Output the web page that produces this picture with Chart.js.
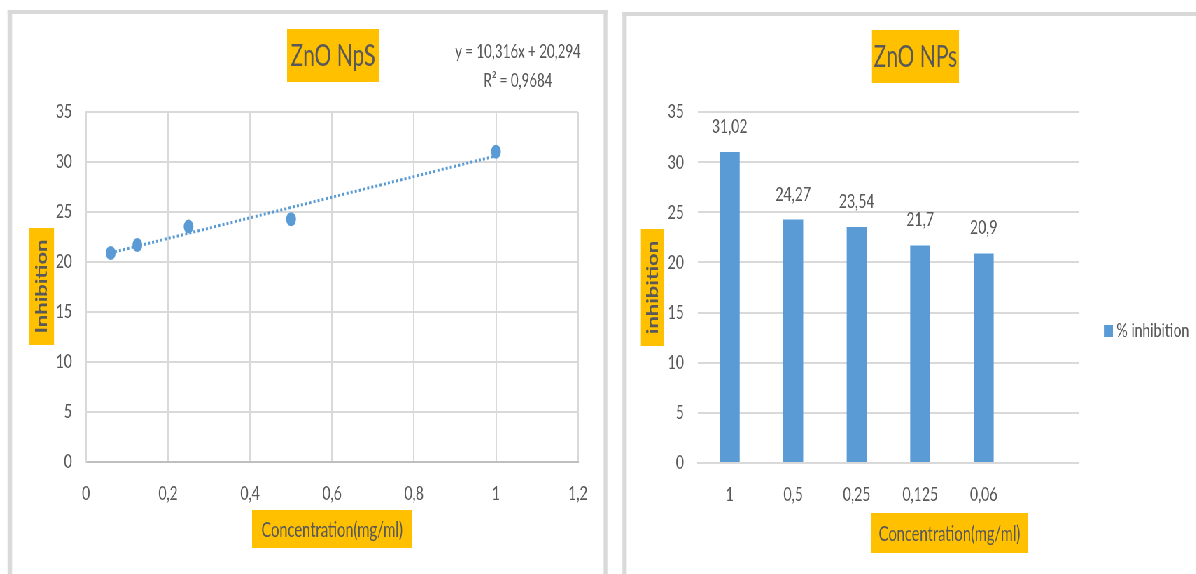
<!DOCTYPE html>
<html>
<head>
<meta charset="utf-8">
<title>ZnO NPs – inhibition</title>
<script src="https://cdn.jsdelivr.net/npm/chart.js@4.4.1/dist/chart.umd.min.js"></script>
<style>
  html, body { margin: 0; padding: 0; background: #ffffff; width: 1196px; height: 574px; overflow: hidden; }
  /* the whole sheet is laid out wide and then narrowed horizontally */
  #stage { position: absolute; left: 0; top: 0; width: 1709px; height: 574px;
           transform: scaleX(0.7); transform-origin: 0 0; }
  .frame { position: absolute; border: 0 solid #d9d9d9; }
  #frameL { left: 11.4px; top: 10px; width: 845px; height: 620px;
            border-top-width: 4px; border-left-width: 6px; border-right-width: 6px; }
  #frameR { left: 888.6px; top: 12px; width: 1000px; height: 620px;
            border-top-width: 4px; border-left-width: 6px; }
  .plot { position: absolute; top: 0; }
  #plotL { left: 0; }
  #plotR { left: 880px; }
</style>
</head>
<body>
<div id="stage">
  <div class="frame" id="frameL"></div>
  <div class="frame" id="frameR"></div>
  <canvas class="plot" id="plotL" width="880" height="574"></canvas>
  <canvas class="plot" id="plotR" width="829" height="574"></canvas>
</div>
<script>
// Concentration (mg/ml) and % inhibition of the ZnO nanoparticles
const concentrations = [0.06, 0.125, 0.25, 0.5, 1];
const inhibition = [20.9, 21.7, 23.54, 24.27, 31.02];

// linear trendline as reported on the scatter plot
const trendSlope = 10.316;
const trendIntercept = 20.294;
const trendR2 = 0.9684;

// bar chart: categories in descending concentration
const barCategories = ['1', '0,5', '0,25', '0,125', '0,06'];
const barValues = [31.02, 24.27, 23.54, 21.7, 20.9];

// axis ranges
const yMin = 0, yMax = 35, yStep = 5;
const xMin = 0, xMax = 1.2, xStep = 0.2;

const BLUE = '#5B9BD5';
const ORANGE = '#FFC000';
const TEXT = '#595959';
const GRID = '#d9d9d9';
const FONT = 'Lato, "Liberation Sans", sans-serif';

Chart.defaults.font.family = FONT;
Chart.defaults.color = TEXT;

// decimal comma formatting
const comma = v => String(Math.round(v * 1e6) / 1e6).replace('.', ',');

// draws titles in filled boxes, extra text lines and a simple legend
const annotations = {
  id: 'annotations',
  afterDraw(chart, args, opts) {
    const ctx = chart.ctx;
    (opts.boxes || []).forEach(b => {
      ctx.save();
      ctx.translate(b.x, b.y);
      if (b.rotate) ctx.rotate(b.rotate);
      ctx.fillStyle = ORANGE;
      ctx.fillRect(-b.w / 2, -b.h / 2, b.w, b.h);
      ctx.fillStyle = TEXT;
      ctx.font = b.font;
      ctx.textAlign = 'center';
      ctx.textBaseline = 'middle';
      ctx.fillText(b.text, 0, b.dy || 0);
      ctx.restore();
    });
    (opts.lines || []).forEach(l => {
      ctx.save();
      ctx.fillStyle = TEXT;
      ctx.font = l.font;
      ctx.textAlign = 'center';
      ctx.textBaseline = 'alphabetic';
      ctx.fillText(l.text, l.x, l.y);
      ctx.restore();
    });
    if (opts.legend) {
      const lg = opts.legend;
      chart.data.datasets.forEach((ds, i) => {
        const y = lg.y + i * lg.rowHeight;
        ctx.save();
        ctx.fillStyle = ds.backgroundColor;
        ctx.fillRect(lg.x, y - lg.box / 2, lg.boxW, lg.box);
        ctx.fillStyle = TEXT;
        ctx.font = lg.font;
        ctx.textAlign = 'left';
        ctx.textBaseline = 'middle';
        ctx.fillText(ds.label, lg.x + lg.boxW + lg.gap, y);
        ctx.restore();
      });
    }
  }
};

// value labels above each bar
const barValueLabels = {
  id: 'barValueLabels',
  afterDatasetsDraw(chart, args, opts) {
    const ctx = chart.ctx;
    chart.data.datasets.forEach((ds, di) => {
      const meta = chart.getDatasetMeta(di);
      if (meta.type !== 'bar') return;
      meta.data.forEach((bar, i) => {
        const v = ds.data[i];
        if (v == null) return;
        ctx.save();
        ctx.fillStyle = TEXT;
        ctx.font = opts.font;
        ctx.textAlign = 'center';
        ctx.textBaseline = 'alphabetic';
        ctx.fillText(comma(v), bar.x, bar.y - opts.offset);
        ctx.restore();
      });
    });
  }
};

const tickFont = { size: 20 };

// ---- scatter with trendline ----
const scatterPoints = concentrations.map((c, i) => ({ x: c, y: inhibition[i] }));
const trendEnds = [concentrations[0], concentrations[concentrations.length - 1]]
  .map(x => ({ x: x, y: trendSlope * x + trendIntercept }));

new Chart(document.getElementById('plotL'), {
  type: 'scatter',
  data: {
    datasets: [
      {
        label: 'Inhibition',
        data: scatterPoints,
        backgroundColor: BLUE,
        borderColor: BLUE,
        pointRadius: 7,
        pointBorderWidth: 0,
        showLine: false
      },
      {
        type: 'line',
        label: 'Linear trend',
        data: trendEnds,
        borderColor: BLUE,
        borderWidth: 3,
        borderDash: [3, 3],
        pointRadius: 0,
        fill: false
      }
    ]
  },
  plugins: [annotations],
  options: {
    responsive: false,
    animation: false,
    layout: { padding: { top: 112, right: 54.3, bottom: 0, left: 0 } },
    scales: {
      x: {
        type: 'linear', min: xMin, max: xMax,
        ticks: { stepSize: xStep, padding: 20, font: tickFont, color: TEXT, callback: v => comma(v) },
        grid: { color: GRID, lineWidth: 2, drawTicks: false },
        border: { color: '#bfbfbf', width: 2 },
        afterFit(s) { s.height = 112; }
      },
      y: {
        min: yMin, max: yMax,
        ticks: { stepSize: yStep, padding: 20, font: tickFont, color: TEXT },
        grid: { color: GRID, lineWidth: 2, drawTicks: false },
        border: { color: GRID, width: 2 },
        afterFit(s) { s.width = 122.9; }
      }
    },
    plugins: {
      legend: { display: false },
      tooltip: { enabled: false },
      annotations: {
        boxes: [
          { text: 'ZnO NpS', x: 475.7, y: 55.5, w: 131.4, h: 53, font: '30px ' + FONT, dy: 1 },
          { text: 'Inhibition', x: 59.3, y: 286.5, w: 117, h: 35.7, rotate: -Math.PI / 2, font: 'bold 22px ' + FONT, dy: 1 },
          { text: 'Concentration(mg/ml)', x: 474.3, y: 529, w: 228.6, h: 38, font: '21px ' + FONT, dy: 1 }
        ],
        lines: [
          { text: 'y = ' + comma(trendSlope) + 'x + ' + comma(trendIntercept), x: 740, y: 58, font: '19px ' + FONT },
          { text: 'R² = ' + comma(trendR2), x: 740, y: 87, font: '19px ' + FONT }
        ]
      }
    }
  }
});

// ---- bar chart ----
new Chart(document.getElementById('plotR'), {
  type: 'bar',
  data: {
    // one spare slot keeps empty room at the right end of the category axis
    labels: barCategories.concat(['']),
    datasets: [{
      label: '% inhibition',
      data: barValues,
      backgroundColor: BLUE,
      borderWidth: 0,
      barPercentage: 0.315,
      categoryPercentage: 1
    }]
  },
  plugins: [barValueLabels, annotations],
  options: {
    responsive: false,
    animation: false,
    layout: { padding: { top: 112, right: 167.6, bottom: 0, left: 0 } },
    scales: {
      x: {
        ticks: { padding: 20, font: tickFont, color: TEXT },
        grid: { display: false, drawTicks: false },
        border: { color: GRID, width: 2 },
        afterFit(s) { s.height = 111; }
      },
      y: {
        min: yMin, max: yMax,
        ticks: { stepSize: yStep, padding: 20, font: tickFont, color: TEXT },
        grid: { color: GRID, lineWidth: 2, drawTicks: false },
        border: { display: false },
        afterFit(s) { s.width = 117.1; }
      }
    },
    plugins: {
      legend: { display: false },
      tooltip: { enabled: false },
      barValueLabels: { font: '20px ' + FONT, offset: 19 },
      annotations: {
        boxes: [
          { text: 'ZnO NPs', x: 427.9, y: 56.5, w: 124.3, h: 53, font: '30px ' + FONT, dy: 1 },
          { text: 'inhibition', x: 52.1, y: 287.5, w: 117, h: 32.9, rotate: -Math.PI / 2, font: 'bold 22px ' + FONT, dy: 1 },
          { text: 'Concentration(mg/ml)', x: 476.4, y: 533, w: 224.3, h: 40, font: '21px ' + FONT, dy: 1 }
        ],
        legend: { x: 697.1, y: 331, box: 12, boxW: 12.9, gap: 5, rowHeight: 24, font: '20px ' + FONT }
      }
    }
  }
});
</script>
</body>
</html>
